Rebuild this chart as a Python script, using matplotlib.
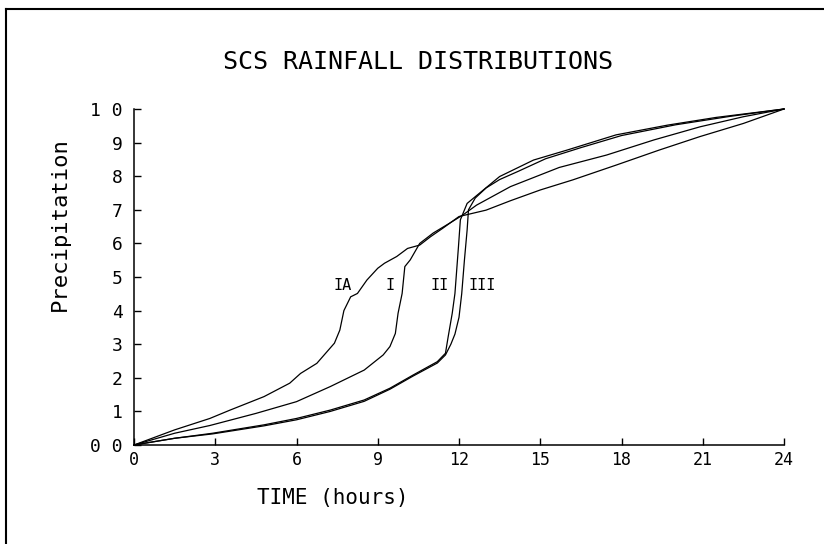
import matplotlib
matplotlib.use("Agg")
import matplotlib.pyplot as plt
from matplotlib.lines import Line2D

# SCS 24-hour cumulative rainfall distributions (fraction of total)
t_ia = [0, 1.5, 2.8, 3.55, 4.8, 5.75, 6.15, 6.75, 7.4, 7.6, 7.75, 8.0, 8.25, 8.6, 9.0,
        9.25, 9.7, 10.1, 10.55, 10.95, 11.4, 12.0, 13.0, 13.9, 15.0, 16.2, 17.8, 19.4,
        20.9, 22.5, 24]
p_ia = [0, 0.045, 0.079, 0.104, 0.144, 0.184, 0.213, 0.243, 0.303, 0.342, 0.40, 0.441,
        0.451, 0.491, 0.526, 0.541, 0.561, 0.585, 0.595, 0.62, 0.645, 0.68, 0.699, 0.727,
        0.759, 0.789, 0.833, 0.878, 0.918, 0.957, 1.0]

t_i = [0, 1.5, 2.8, 4.5, 6.0, 7.25, 8.5, 9.2, 9.45, 9.65, 9.75, 9.9, 10.0, 10.2, 10.55,
       11.05, 11.65, 12.15, 12.65, 13.9, 15.7, 17.45, 19.2, 20.9, 22.5, 24]
p_i = [0, 0.035, 0.058, 0.094, 0.129, 0.174, 0.223, 0.268, 0.293, 0.332, 0.392, 0.451,
       0.531, 0.551, 0.60, 0.631, 0.66, 0.685, 0.714, 0.769, 0.826, 0.863, 0.908, 0.947,
       0.977, 1.0]

t_ii = [0, 1.5, 2.9, 4.8, 6.0, 7.25, 8.5, 9.45, 10.3, 11.2, 11.5, 11.6, 11.75, 11.85,
        11.98, 12.05, 12.3, 12.9, 13.5, 14.75, 16.0, 17.8, 19.7, 21.5, 24]
p_ii = [0, 0.02, 0.035, 0.06, 0.079, 0.104, 0.134, 0.169, 0.208, 0.248, 0.273, 0.322,
        0.392, 0.451, 0.59, 0.67, 0.719, 0.759, 0.799, 0.848, 0.878, 0.923, 0.952, 0.975, 1.0]

t_iii = [0, 1.5, 2.9, 4.8, 6.0, 7.25, 8.5, 9.45, 10.3, 11.2, 11.5, 11.7, 11.85, 12.0,
         12.1, 12.2, 12.3, 12.35, 12.6, 13.0, 13.5, 14.2, 15.2, 16.5, 18.0, 20.0, 22.0, 24]
p_iii = [0, 0.02, 0.033, 0.057, 0.075, 0.1, 0.13, 0.166, 0.205, 0.244, 0.268, 0.30, 0.33,
         0.38, 0.45, 0.55, 0.64, 0.70, 0.735, 0.765, 0.79, 0.815, 0.852, 0.885, 0.921,
         0.953, 0.978, 1.0]

curve_names = ["IA", "I", "II", "III"]
label_x = [7.72, 9.46, 11.3, 12.85]
label_y = 0.476

x_ticks = [0, 3, 6, 9, 12, 15, 18, 21, 24]
y_ticks = [0, 0.1, 0.2, 0.3, 0.4, 0.5, 0.6, 0.7, 0.8, 0.9, 1.0]
y_tick_labels = ["0 0", "1", "2", "3", "4", "5", "6", "7", "8", "9", "1 0"]

mono = "DejaVu Sans Mono"

fig = plt.figure(figsize=(8.24, 5.44), dpi=100)
ax = fig.add_axes([134 / 824, 99 / 544, 650 / 824, 336 / 544])

for t, p in [(t_ia, p_ia), (t_i, p_i), (t_ii, p_ii), (t_iii, p_iii)]:
    ax.plot(t, p, color="black", lw=0.9, clip_on=False)

for name, x in zip(curve_names, label_x):
    ax.text(x, label_y, name, family=mono, fontsize=11, ha="center", va="center",
            bbox=dict(facecolor="white", edgecolor="none", pad=0.5))

ax.set_xlim(0, 24)
ax.set_ylim(0, 1)
ax.spines["top"].set_visible(False)
ax.spines["right"].set_visible(False)
ax.spines["left"].set_linewidth(1.1)
ax.spines["bottom"].set_linewidth(1.1)

ax.set_xticks(x_ticks)
ax.set_xticklabels([str(v) for v in x_ticks], family=mono, fontsize=12)
ax.set_yticks(y_ticks)
ax.set_yticklabels(y_tick_labels, family=mono, fontsize=13)
ax.tick_params(direction="in", length=5, width=1, pad=4)
ax.tick_params(axis="y", pad=8)

fig.text(418 / 824, 1 - 62 / 544, "SCS RAINFALL DISTRIBUTIONS", family=mono,
         fontsize=18, ha="center", va="center")
fig.text(333 / 824, 1 - 498 / 544, "TIME (hours)", family=mono, fontsize=15,
         ha="center", va="center")
fig.text(60 / 824, 1 - 224 / 544, "Precipitation", family=mono, fontsize=16,
         ha="center", va="center", rotation=90)

# outer frame (left and top edges visible)
fig.add_artist(Line2D([6 / 824, 6 / 824], [0, 1 - 9 / 544], color="black", lw=1.5))
fig.add_artist(Line2D([6 / 824, 1], [1 - 9 / 544, 1 - 9 / 544], color="black", lw=1.5))

fig.savefig("out.png", dpi=100)
